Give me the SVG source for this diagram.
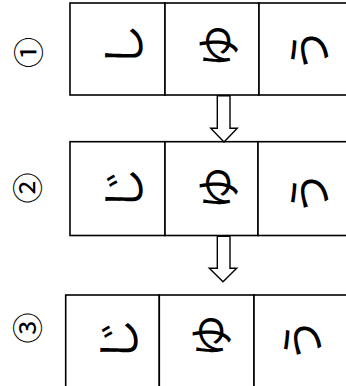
<svg xmlns="http://www.w3.org/2000/svg" width="346" height="386" viewBox="0 0 346 386">
<style>
.cell{fill:#fff;stroke:#000;stroke-width:1.6}
.kana{font-family:"Noto Sans CJK JP","Noto Sans CJK SC",sans-serif;font-size:44px;fill:#000;text-anchor:middle;dominant-baseline:central}
.num{font-family:"Noto Sans CJK JP","DejaVu Sans",sans-serif;font-size:31px;fill:#000;text-anchor:middle;dominant-baseline:central}
.arrow{fill:#fff;stroke:#000;stroke-width:1.4;stroke-linejoin:miter}
</style>
<rect width="346" height="386" fill="#fff"/>
<g id="labels">
<g id="label1"><text class="num" transform="translate(26.5,52.5) rotate(-90)">①</text></g>
<g id="label2"><text class="num" transform="translate(25.5,188) rotate(-90)">②</text></g>
<g id="label3"><text class="num" transform="translate(25,328) rotate(-90)">③</text></g>
</g>
<g id="row1">
<g id="r1c1"><rect class="cell" x="70" y="3" width="95" height="92"/><text class="kana" transform="translate(121,46) rotate(-90)">し</text></g>
<g id="r1c2"><rect class="cell" x="165" y="3" width="94" height="92"/><text class="kana" transform="translate(216,46) rotate(-90)">ゆ</text></g>
<g id="r1c3"><rect class="cell" x="259" y="3" width="96" height="92"/><text class="kana" transform="translate(306.5,50) rotate(-90)">う</text></g>
</g>
<g id="row2">
<g id="r2c1"><rect class="cell" x="70" y="141.7" width="95" height="93.8"/><text class="kana" transform="translate(121,189) rotate(-90)">じ</text></g>
<g id="r2c2"><rect class="cell" x="165" y="141.7" width="93" height="93.8"/><text class="kana" transform="translate(215.5,188) rotate(-90)">ゆ</text></g>
<g id="r2c3"><rect class="cell" x="258" y="141.7" width="96" height="93.8"/><text class="kana" transform="translate(306.5,193) rotate(-90)">う</text></g>
</g>
<g id="row3">
<g id="r3c1"><rect class="cell" x="65.7" y="295" width="93.6" height="96"/><text class="kana" transform="translate(116,340) rotate(-90)">じ</text></g>
<g id="r3c2"><rect class="cell" x="159.3" y="295" width="94.7" height="96"/><text class="kana" transform="translate(209,336) rotate(-90)">ゆ</text></g>
<g id="r3c3"><rect class="cell" x="254" y="295" width="98" height="96"/><text class="kana" transform="translate(300,340) rotate(-90)">う</text></g>
</g>
<g id="connectors">
<polygon class="arrow" points="217.3,95.8 230,95.8 230,128.3 237.3,128.3 224,142 210.7,128.3 217.3,128.3"/>
<polygon class="arrow" points="217.3,236.3 230,236.3 230,268.3 236.7,268.3 223,281.7 209.3,268.3 217.3,268.3"/>
</g>
</svg>
